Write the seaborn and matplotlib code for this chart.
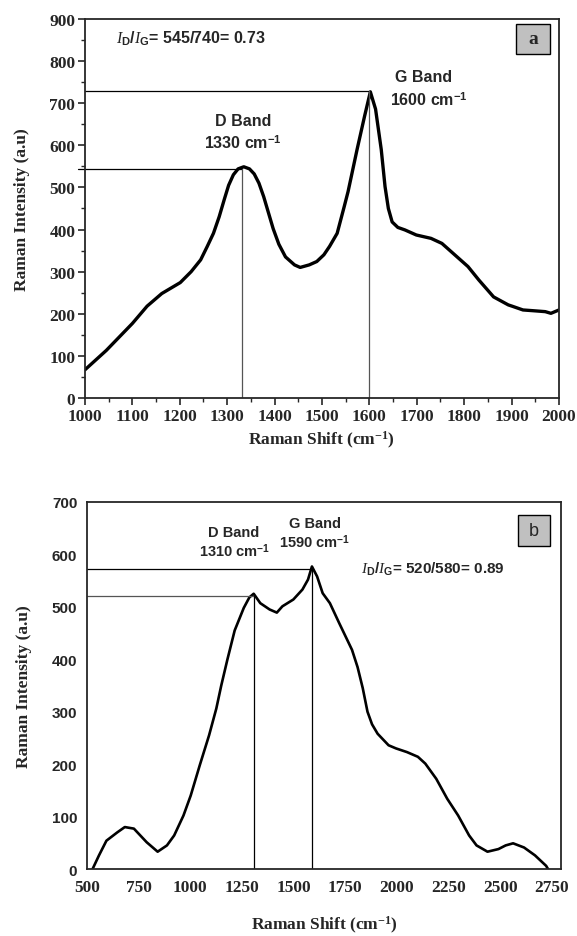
import numpy as np
import pandas as pd
import matplotlib
matplotlib.use("Agg")
import matplotlib.pyplot as plt
from matplotlib.patches import Rectangle
from matplotlib.ticker import MultipleLocator
import seaborn as sns

# Panel a: Raman spectrum
shift_a = [1000, 1045, 1100, 1131, 1162, 1201, 1224, 1244, 1258, 1271, 1283, 1294,
           1303, 1313, 1323, 1335, 1347, 1357, 1367, 1377, 1387, 1397, 1409, 1423,
           1442, 1454, 1473, 1489, 1504, 1516, 1532, 1547, 1555, 1574, 1590, 1602,
           1613, 1625, 1633, 1640, 1648, 1660, 1675, 1699, 1730, 1753, 1776, 1808,
           1831, 1862, 1893, 1901, 1924, 1948, 1971, 1983, 2000]
inten_a = [67, 113, 177, 218, 248, 274, 300, 328, 360, 391, 430, 472,
           505, 530, 544, 549, 544, 532, 510, 478, 440, 402, 365, 335,
           316, 310, 316, 324, 340, 360, 391, 455, 490, 590, 670, 727,
           686, 590, 502, 450, 418, 405, 399, 387, 379, 367, 344, 312,
           280, 240, 221, 218, 209, 207, 205, 201, 209]

# Panel b
shift_b = [527, 558, 594, 647, 683, 727, 789, 842, 887, 922, 967, 1002, 1046,
           1091, 1126, 1150, 1180, 1215, 1259, 1286, 1307, 1339, 1384, 1419, 1446,
           1499, 1543, 1570, 1589, 1614, 1641, 1676, 1721, 1783, 1810, 1835, 1858,
           1880, 1907, 1960, 1996, 2049, 2102, 2138, 2191, 2244, 2297, 2350, 2386,
           2439, 2492, 2527, 2563, 2616, 2669, 2723, 2732]
inten_b = [0, 26, 54, 70, 80, 77, 51, 33, 45, 64, 102, 140, 198,
           255, 306, 350, 400, 455, 498, 518, 525, 507, 495, 489, 501,
           514, 533, 552, 577, 558, 526, 507, 469, 418, 385, 345, 300,
           276, 258, 236, 230, 223, 214, 201, 172, 134, 102, 64, 45,
           33, 38, 45, 49, 41, 26, 6, 0]

# band positions / heights for the guide lines
d_a, g_a = 1332, 1600
d_a_h, g_a_h = 543, 728
d_b, g_b = 1310, 1590
d_b_h, g_b_h = 520, 572

sns.set_style("ticks")
plt.rcParams['mathtext.fontset'] = 'custom'
plt.rcParams['mathtext.it'] = 'Liberation Serif:italic'
plt.rcParams['mathtext.sf'] = 'Liberation Sans:bold'
plt.rcParams['mathtext.bf'] = 'Liberation Serif:bold'
plt.rcParams['mathtext.rm'] = 'Liberation Sans:bold'

SERIF = 'Liberation Serif'
SANS = 'Liberation Sans'

fig = plt.figure(figsize=(5.77, 9.37), dpi=100)
ax1 = fig.add_axes([0.1473, 0.5742, 0.8215, 0.4045])
ax2 = fig.add_axes([0.1508, 0.0715, 0.8215, 0.3917])

# ---------- panel a ----------
df_a = pd.DataFrame({'shift': shift_a, 'intensity': inten_a})
sns.lineplot(data=df_a, x='shift', y='intensity', ax=ax1, color='black', lw=2.4, sort=False)
ax1.set_xlim(1000, 2000)
ax1.set_ylim(0, 900)
ax1.xaxis.set_major_locator(MultipleLocator(100))
ax1.xaxis.set_minor_locator(MultipleLocator(50))
ax1.yaxis.set_major_locator(MultipleLocator(100))
ax1.yaxis.set_minor_locator(MultipleLocator(50))
ax1.tick_params(which='major', length=5, width=1.2, direction='out', pad=2)
ax1.tick_params(which='minor', length=3, width=1.0, direction='out')
for lab in ax1.get_xticklabels() + ax1.get_yticklabels():
    lab.set_fontfamily(SERIF)
    lab.set_fontweight('bold')
    lab.set_fontsize(12.5)
ax1.set_xlabel(r'Raman Shift (cm$^{\mathbf{-1}}$)', fontfamily=SERIF, fontweight='bold', fontsize=12.5, labelpad=4)
ax1.set_ylabel('Raman Intensity (a.u)', fontfamily=SERIF, fontweight='bold', fontsize=12.5, labelpad=14)
for s in ax1.spines.values():
    s.set_linewidth(1.3)

ax1.plot([1000, g_a], [g_a_h, g_a_h], color='black', lw=0.9)
ax1.plot([985, d_a], [d_a_h, d_a_h], color='black', lw=0.9, clip_on=False)
ax1.plot([d_a, d_a], [0, d_a_h], color='#555555', lw=0.9)
ax1.plot([g_a, g_a], [0, g_a_h], color='#555555', lw=0.9)

ax1.text(1065, 855, r'$\mathit{I}_{\mathsf{D}}/\mathit{I}_{\mathsf{G}}$= 545/740= 0.73',
         fontfamily=SANS, fontweight='bold', fontsize=11.5, ha='left', va='center')
ax1.text(1333, 658, 'D Band', fontfamily=SANS, fontweight='bold', fontsize=11.5, ha='center', va='center')
ax1.text(1333, 607, r'1330 cm$^{\mathsf{-1}}$', fontfamily=SANS, fontweight='bold', fontsize=11.5, ha='center', va='center')
ax1.text(1714, 764, 'G Band', fontfamily=SANS, fontweight='bold', fontsize=11.5, ha='center', va='center')
ax1.text(1726, 710, r'1600 cm$^{\mathsf{-1}}$', fontfamily=SANS, fontweight='bold', fontsize=11.5, ha='center', va='center')

ax1.add_patch(Rectangle((0.909, 0.908), 0.072, 0.079, transform=ax1.transAxes,
                        facecolor='#c0c0c0', edgecolor='black', lw=1.0))
ax1.text(0.945, 0.948, 'a', transform=ax1.transAxes, fontfamily=SERIF, fontweight='bold',
         fontsize=14, ha='center', va='center')

# ---------- panel b ----------
df_b = pd.DataFrame({'shift': shift_b, 'intensity': inten_b})
sns.lineplot(data=df_b, x='shift', y='intensity', ax=ax2, color='black', lw=1.9, sort=False)
ax2.set_xlim(500, 2795)
ax2.set_ylim(0, 700)
ax2.set_xticks(np.arange(500, 2751, 250))
ax2.set_yticks(np.arange(0, 701, 100))
ax2.tick_params(length=0, pad=7)
for lab in ax2.get_xticklabels():
    lab.set_fontfamily(SERIF)
    lab.set_fontweight('bold')
    lab.set_fontsize(12.5)
for lab in ax2.get_yticklabels():
    lab.set_fontfamily(SANS)
    lab.set_fontweight('bold')
    lab.set_fontsize(11)
ax2.set_xlabel(r'Raman Shift (cm$^{\mathbf{-1}}$)', fontfamily=SERIF, fontweight='bold', fontsize=12.5, labelpad=14)
ax2.set_ylabel('Raman Intensity (a.u)', fontfamily=SERIF, fontweight='bold', fontsize=12.5, labelpad=14)
for s in ax2.spines.values():
    s.set_linewidth(1.3)

ax2.plot([500, g_b], [g_b_h, g_b_h], color='black', lw=0.9)
ax2.plot([500, d_b], [d_b_h, d_b_h], color='#555555', lw=0.9)
ax2.plot([d_b, d_b], [0, d_b_h], color='black', lw=0.9)
ax2.plot([g_b, g_b], [0, g_b_h], color='black', lw=0.9)

ax2.text(1210, 643, 'D Band', fontfamily=SANS, fontweight='bold', fontsize=10.5, ha='center', va='center')
ax2.text(1215, 608, r'1310 cm$^{\mathsf{-1}}$', fontfamily=SANS, fontweight='bold', fontsize=10.5, ha='center', va='center')
ax2.text(1602, 659, 'G Band', fontfamily=SANS, fontweight='bold', fontsize=10.5, ha='center', va='center')
ax2.text(1602, 625, r'1590 cm$^{\mathsf{-1}}$', fontfamily=SANS, fontweight='bold', fontsize=10.5, ha='center', va='center')
ax2.text(1827, 573, r'$\mathit{I}_{\mathsf{D}}/\mathit{I}_{\mathsf{G}}$= 520/580= 0.89',
         fontfamily=SANS, fontweight='bold', fontsize=11, ha='left', va='center')

ax2.add_patch(Rectangle((0.909, 0.881), 0.068, 0.083, transform=ax2.transAxes,
                        facecolor='#c0c0c0', edgecolor='black', lw=1.0))
ax2.text(0.943, 0.922, 'b', transform=ax2.transAxes, fontfamily=SANS,
         fontsize=13, ha='center', va='center')

fig.savefig('out.png', dpi=100)
